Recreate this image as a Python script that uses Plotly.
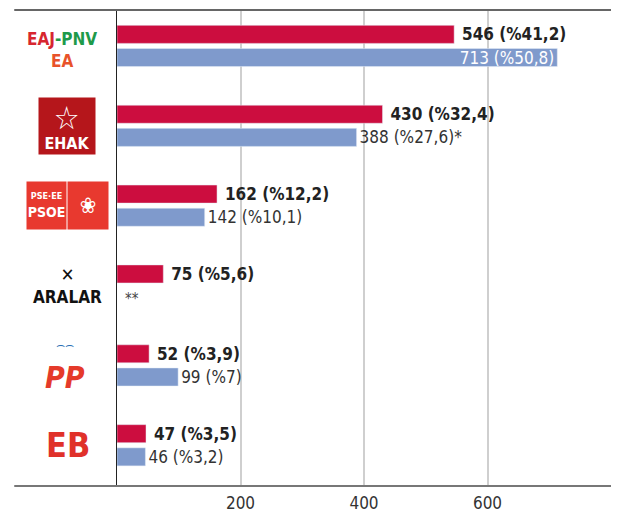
import plotly.graph_objects as go

# datos
parties = ["PNV-EA", "EHAK", "PSE-EE", "ARALAR", "PP", "EB"]
seats_new = [546, 430, 162, 75, 52, 47]
pct_new = ["41,2", "32,4", "12,2", "5,6", "3,9", "3,5"]
seats_old = [713, 388, 142, None, 99, 46]
pct_old = ["50,8", "27,6", "10,1", None, "7", "3,2"]
notes_old = ["", "*", "", "**", "", ""]
tick_vals = [200, 400, 600, 800]
tick_text = ["200", "400", "600", ""]

RED = "#CC0D3F"
BLUE = "#7F9ACC"
FONT = "DejaVu Sans Condensed, Liberation Sans Narrow, Arial Narrow, sans-serif"

labels_new = [f"\u00a0<b>{v} (%{p})</b>" for v, p in zip(seats_new, pct_new)]
labels_old = [f"{v} (%{p}){n}" if v is not None else "" for v, p, n in zip(seats_old, pct_old, notes_old)]
pos_old = ["inside" if v is not None and v > 650 else "outside" for v in seats_old]
col_old = ["white" if v is not None and v > 650 else "#333333" for v in seats_old]

fig = go.Figure()
fig.add_trace(go.Bar(
    y=parties, x=seats_new, orientation="h", name="new",
    marker_color=RED, text=labels_new, textposition="outside",
    textfont=dict(family=FONT, size=17, color="#222222"),
    cliponaxis=False,
))
fig.add_trace(go.Bar(
    y=parties, x=seats_old, orientation="h", name="old",
    marker_color=BLUE, text=labels_old, textposition=pos_old,
    insidetextanchor="end",
    textfont=dict(family=FONT, size=17, color=col_old),
    cliponaxis=False,
))

# la pagina tiene 8px de margen en el body
fig.update_layout(
    width=615, height=507,
    margin=dict(l=109, r=12, t=2, b=29, autoexpand=False),
    plot_bgcolor="white", paper_bgcolor="white",
    barmode="group", bargap=0.42, bargroupgap=0.22,
    showlegend=False,
    font=dict(family=FONT, color="#333333"),
    uniformtext=dict(minsize=16, mode="show"),
)
fig.update_xaxes(
    range=[0, 800], tickvals=tick_vals, ticktext=tick_text,
    showgrid=True, gridcolor="#CFCFCF", gridwidth=1.5,
    zeroline=False, showline=False, ticks="", automargin=False,
    ticklabelstandoff=5,
    tickfont=dict(family=FONT, size=17, color="#333333"),
)
fig.update_yaxes(
    categoryorder="array", categoryarray=parties,
    range=[5.51, -0.45], showticklabels=False, automargin=False,
    showline=True, linecolor="#222222", linewidth=1,
    showgrid=False, ticks="",
)

# lineas superior e inferior
fig.add_shape(type="line", xref="paper", yref="paper", x0=-0.208, x1=1.0, y0=1, y1=1,
              line=dict(color="#666666", width=2))
fig.add_shape(type="line", xref="paper", yref="paper", x0=-0.208, x1=1.0, y0=0, y1=0,
              line=dict(color="#777777", width=2))

# logotipos como texto
fig.add_annotation(xref="paper", yref="y", x=-0.111, y="PNV-EA", yshift=-4, showarrow=False,
                   xanchor="center",
                   text="<b><span style='color:#D7262F'>EAJ</span>-<span style='color:#1E9A4A'>PNV</span></b>"
                        "<br><b><span style='color:#E8522A'>EA</span></b>",
                   font=dict(family=FONT, size=17, color="#1E9A4A"), align="center")
fig.add_annotation(xref="paper", yref="y", x=-0.101, y="EHAK", showarrow=False,
                   xanchor="center", width=54, height=54,
                   text="<span style='font-size:32px'>☆</span><br><b>EHAK</b>",
                   bgcolor="#B5161B", borderpad=1,
                   font=dict(family=FONT, size=16, color="white"), align="center")
fig.add_annotation(xref="paper", yref="y", x=-0.1427, y="PSE-EE", showarrow=False,
                   xanchor="center", width=37, height=45,
                   text="<span style='font-size:9px'><b>PSE·EE</b></span><br><b>PSOE</b>",
                   bgcolor="#E8392F", borderpad=1,
                   font=dict(family=FONT, size=14, color="white"), align="center")
fig.add_annotation(xref="paper", yref="y", x=-0.0587, y="PSE-EE", showarrow=False,
                   xanchor="center", width=38, height=45,
                   text="❀",
                   bgcolor="#E8392F", borderpad=1,
                   font=dict(family=FONT, size=22, color="white"), align="center")
fig.add_annotation(xref="paper", yref="y", x=-0.101, y="ARALAR", showarrow=False,
                   xanchor="center",
                   text="<span style='font-size:18px'>✕</span><br><b>ARALAR</b>",
                   font=dict(family=FONT, size=17, color="#111111"), align="center")
fig.add_annotation(xref="paper", yref="y", x=-0.105, y="PP", showarrow=False,
                   xanchor="center",
                   text="<span style='color:#2C6FB5;font-size:14px'>⌢⌢</span><br><b><i>PP</i></b>",
                   font=dict(family=FONT, size=30, color="#E53A2A"), align="center")
fig.add_annotation(xref="paper", yref="y", x=-0.099, y="EB", showarrow=False,
                   xanchor="center",
                   text="<b>EB</b>",
                   font=dict(family=FONT, size=34, color="#E0312A"), align="center")

# nota de ARALAR sin dato previo
fig.add_annotation(x=0, y="ARALAR", xanchor="left", xshift=6, yshift=-13, showarrow=False,
                   text=notes_old[3], font=dict(family=FONT, size=15, color="#444444"))

fig.write_html("out.html")
